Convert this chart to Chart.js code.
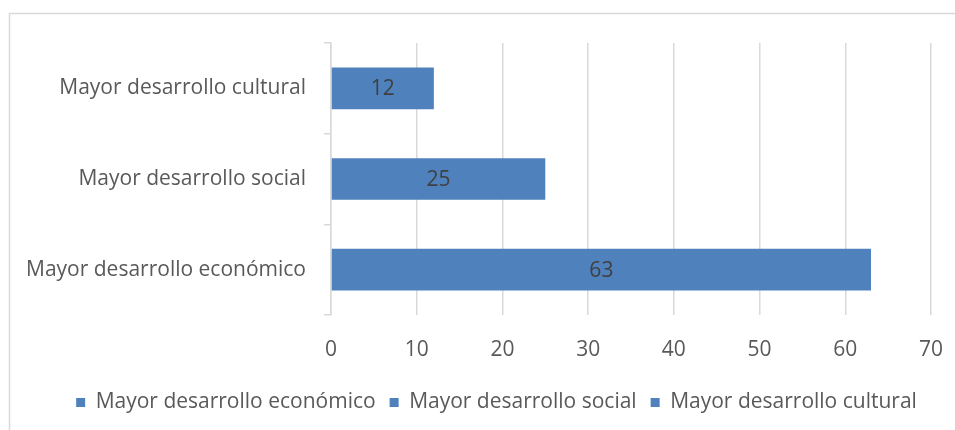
<!DOCTYPE html>
<html>
<head>
<meta charset="utf-8">
<script src="https://cdn.jsdelivr.net/npm/chart.js@4/dist/chart.umd.min.js"></script>
<style>
  html, body { margin: 0; padding: 0; background: #fff; }
  #wrap { width: 955px; height: 430px; }
</style>
</head>
<body>
<div id="wrap"><canvas id="c" width="955" height="430"></canvas></div>
<script>
const categories = ['Mayor desarrollo económico', 'Mayor desarrollo social', 'Mayor desarrollo cultural'];
const values     = [63, 25, 12];
const xTicks     = [0, 10, 20, 30, 40, 50, 60, 70];

const barColor  = '#4F81BD';
const textColor = '#595959';
const lineColor = '#d9d9d9';
const fontFam   = '"Open Sans", "Noto Sans", sans-serif';
const fontSize  = 21;

// outer frame like the office chart area
const framePlugin = {
  id: 'frame',
  beforeDraw(chart) {
    const ctx = chart.ctx;
    ctx.save();
    ctx.strokeStyle = lineColor;
    ctx.lineWidth = 1.5;
    ctx.strokeRect(9.5, 13.5, 960, 440);
    ctx.restore();
  }
};

// legend sits centred under the whole frame, not under the canvas
const legendShift = {
  id: 'legendShift',
  afterLayout(chart) {
    if (chart.legend) {
      chart.legend.left += 62;
    }
  }
};

// value labels centred inside each bar
const valueLabels = {
  id: 'valueLabels',
  afterDatasetsDraw(chart) {
    const ctx = chart.ctx;
    const meta = chart.getDatasetMeta(0);
    ctx.save();
    ctx.font = fontSize + 'px ' + fontFam;
    ctx.fillStyle = '#404040';
    ctx.textAlign = 'center';
    ctx.textBaseline = 'middle';
    meta.data.forEach(function(bar, i) {
      ctx.fillText(String(values[i]), (bar.x + bar.base) / 2, bar.y + 1);
    });
    ctx.restore();
  }
};

new Chart(document.getElementById('c').getContext('2d'), {
  type: 'bar',
  data: {
    labels: categories,
    datasets: [{
      label: 'Serie',
      data: values,
      backgroundColor: barColor,
      borderWidth: 0,
      barPercentage: 0.46,
      categoryPercentage: 1
    }]
  },
  options: {
    indexAxis: 'y',
    responsive: false,
    animation: false,
    layout: { padding: { top: 43, right: 24, left: 0, bottom: 7 } },
    scales: {
      x: {
        min: 0, max: 70,
        afterBuildTicks: function(scale) {
          scale.ticks = xTicks.map(function(v) { return { value: v }; });
        },
        afterFit: function(scale) {
          scale.height = 63;
          scale.paddingLeft = 0;
          scale.paddingRight = 0;
        },
        grid: { color: lineColor, lineWidth: 1.5, drawTicks: false },
        border: { display: false },
        ticks: { color: textColor, font: { family: fontFam, size: fontSize }, padding: 22 }
      },
      y: {
        reverse: true,
        afterFit: function(scale) {
          scale.width = 331;
          scale.paddingTop = 0;
          scale.paddingBottom = 0;
        },
        grid: { color: lineColor, lineWidth: 1.5, drawOnChartArea: false, drawTicks: true, tickLength: 7, offset: true },
        border: { display: true, color: lineColor, width: 1.5 },
        ticks: { color: textColor, font: { family: fontFam, size: fontSize }, padding: 18 }
      }
    },
    plugins: {
      tooltip: { enabled: false },
      legend: {
        position: 'bottom',
        labels: {
          color: textColor,
          font: { family: fontFam, size: fontSize },
          boxWidth: 9,
          boxHeight: 9,
          padding: 14,
          generateLabels: function() {
            return categories.map(function(name) {
              return { text: name, fillStyle: barColor, strokeStyle: barColor, lineWidth: 0, fontColor: textColor };
            });
          }
        }
      }
    }
  },
  plugins: [framePlugin, legendShift, valueLabels]
});
</script>
</body>
</html>
